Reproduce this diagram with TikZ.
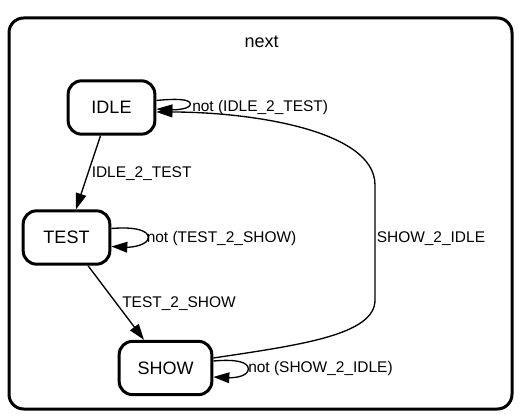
\documentclass[tikz,border=0pt]{standalone}
\usepackage{fontspec}
\setmainfont{Liberation Sans}
\usetikzlibrary{arrows.meta,calc}
\begin{document}
\begin{tikzpicture}[x=0.75pt,y=-0.75pt,
  state/.style={draw,line width=2.25pt,rounded corners=10pt,minimum height=40pt,inner sep=0pt,font=\fontsize{13.5}{16}\selectfont},
  edge/.style={line width=1pt,-{Triangle[length=12pt,width=8pt]}},
  lbl/.style={anchor=base west,inner sep=0pt,font=\fontsize{11.6}{14}\selectfont}]
\useasboundingbox (0,0) rectangle (525,420);
\draw[line width=2.25pt,rounded corners=11pt] (9,18) rectangle (512,409);
\node[anchor=base,inner sep=0pt,font=\fontsize{13.5}{16}\selectfont] (title) at (261.7,47.3) {next};
\node[state,minimum width=65pt] (IDLE) at (111.5,107.5) {IDLE};
\node[state,minimum width=65pt] (TEST) at (66.5,237.5) {TEST};
\node[state,minimum width=69.5pt] (SHOW) at (165.5,368) {SHOW};
% transitions
\draw[edge] ($(IDLE.south)+(-11,0)$) -- ($(TEST.north)+(9.5,0)$);
\draw[edge] ($(TEST.south)+(21.5,0)$) -- ($(SHOW.north)+(-21.5,0)$);
\draw[edge] ($(SHOW.east)+(0,-10)$) .. controls (300,345) and (375,335) .. (375,300)
  -- (375,185) .. controls (375,130) and (250,112) .. ($(IDLE.east)+(0,4.5)$);
% self loops
\draw[edge] ($(IDLE.east)+(0,-7)$) .. controls +(20,-2) and +(0,-5) .. ++(34,3.5)
  .. controls +(0,5) and +(20,1) .. ($(IDLE.east)+(0,1.5)$);
\draw[edge] ($(TEST.east)+(0,-9)$) .. controls +(24,-2) and +(0,-7) .. ++(37,9)
  .. controls +(0,7) and +(22,1) .. ($(TEST.east)+(0,9)$);
\draw[edge] ($(SHOW.east)+(0,-7)$) .. controls +(23,-2) and +(0,-7) .. ++(35,8)
  .. controls +(0,7) and +(22,1) .. ($(SHOW.east)+(0,9)$);
% labels
\node[lbl] (l1) at (192,112) {not (IDLE\_2\_TEST)};
\node[lbl] (l2) at (91.5,178) {IDLE\_2\_TEST};
\node[lbl] (l3) at (146.5,243) {not (TEST\_2\_SHOW)};
\node[lbl] (l4) at (376.5,243) {SHOW\_2\_IDLE};
\node[lbl] (l5) at (122,308) {TEST\_2\_SHOW};
\node[lbl] (l6) at (248,373) {not (SHOW\_2\_IDLE)};
\end{tikzpicture}
\end{document}
